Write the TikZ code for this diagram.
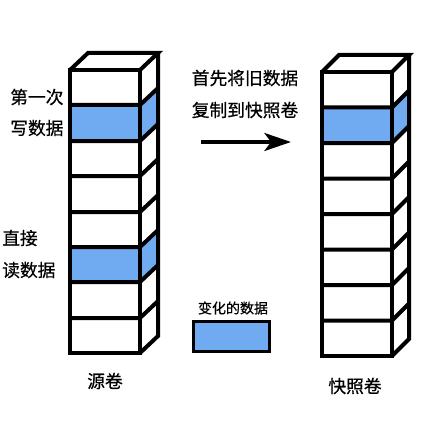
\documentclass[tikz,border=0pt]{standalone}
\usepackage{fontspec}
\setmainfont{Noto Sans CJK SC}[FakeBold=0.6]
\usetikzlibrary{arrows.meta}
\definecolor{cellblue}{RGB}{112,170,240}

\begin{document}
\begin{tikzpicture}[x=0.75pt, y=-0.75pt]
\tikzset{
  edge/.style={line width=3pt, line join=miter},
  label/.style={font=\fontsize{13.3}{14}\selectfont, inner sep=0pt},
  smalllabel/.style={font=\fontsize{10.5}{11}\selectfont, inner sep=0pt}
}
\useasboundingbox (0,0) rectangle (445,424);

% source volume
\fill[cellblue] (70,105) rectangle (140,141);
\fill[cellblue] (140,105) -- (158,88) -- (158,124) -- (140,141) -- cycle;
\fill[cellblue] (70,247) rectangle (140,282);
\fill[cellblue] (140,247) -- (158,230) -- (158,265) -- (140,282) -- cycle;
\draw[edge] (70,70) rectangle (140,353);
\draw[edge] (70,70) -- (88,53) -- (158,53) -- (140,70);
\draw[edge] (158,53) -- (158,336) -- (140,353);
\draw[edge] (70,105) -- (140,105) -- (158,88);
\draw[edge] (70,141) -- (140,141) -- (158,124);
\draw[edge] (70,176) -- (140,176) -- (158,159);
\draw[edge] (70,212) -- (140,212) -- (158,195);
\draw[edge] (70,247) -- (140,247) -- (158,230);
\draw[edge] (70,282) -- (140,282) -- (158,265);
\draw[edge] (70,318) -- (140,318) -- (158,301);

% snapshot volume
\fill[cellblue] (322,107.5) rectangle (392,143);
\fill[cellblue] (392,107.5) -- (409,90.5) -- (409,126) -- (392,143) -- cycle;
\draw[edge] (322,72) rectangle (392,356);
\draw[edge] (322,72) -- (339,55) -- (409,55) -- (392,72);
\draw[edge] (409,55) -- (409,339) -- (392,356);
\draw[edge] (322,107.5) -- (392,107.5) -- (409,90.5);
\draw[edge] (322,143) -- (392,143) -- (409,126);
\draw[edge] (322,178.5) -- (392,178.5) -- (409,161.5);
\draw[edge] (322,214) -- (392,214) -- (409,197);
\draw[edge] (322,249.5) -- (392,249.5) -- (409,232.5);
\draw[edge] (322,285) -- (392,285) -- (409,268);
\draw[edge] (322,320.5) -- (392,320.5) -- (409,303.5);

% texts
\node[label, anchor=west] (firstwrite) at (10,97) {第一次};
\node[label, anchor=west] (writedata) at (10,128) {写数据};
\node[label, anchor=west] (direct) at (2,238) {直接};
\node[label, anchor=west] (readdata) at (2,270) {读数据};
\node[label] (copyold) at (245,78) {首先将旧数据};
\node[label] (tosnap) at (245,110) {复制到快照卷};
\node[label] (source) at (105,381) {源卷};
\node[label] (snapshot) at (355,386) {快照卷};

% arrow
\coordinate (arrowstart) at (201,142);
\coordinate (arrowend) at (291,142);
\draw[line width=2.5pt, -{Stealth[length=20pt, width=13.5pt, inset=5pt]}] (arrowstart) -- (arrowend);

% legend
\node[smalllabel] (changed) at (233,308) {变化的数据};
\node[draw, fill=cellblue, line width=2.5pt, minimum width=57pt, minimum height=22.5pt, inner sep=0pt] (changebox) at (231.5,336.5) {};
\end{tikzpicture}
\end{document}
